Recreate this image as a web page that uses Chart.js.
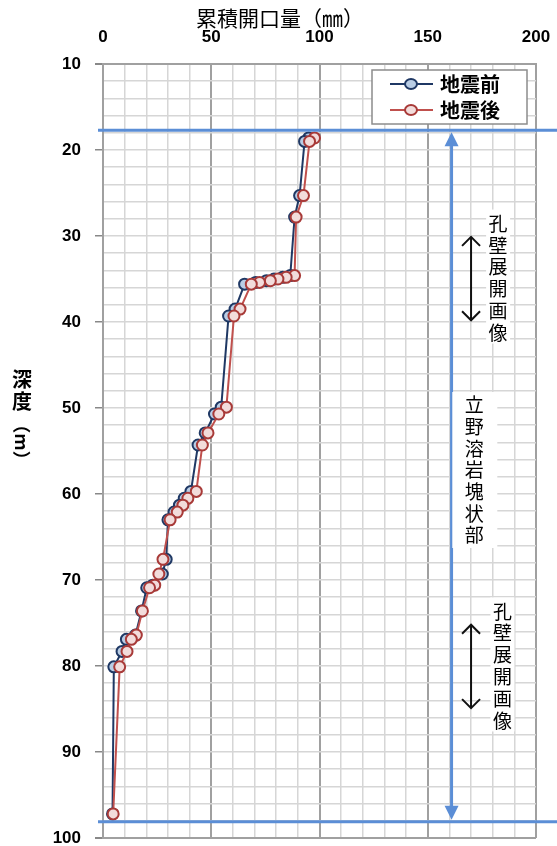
<!DOCTYPE html>
<html>
<head>
<meta charset="utf-8">
<script src="https://cdn.jsdelivr.net/npm/chart.js@4.4.1/dist/chart.umd.min.js"></script>
<style>
  html, body { margin: 0; padding: 0; background: #fff; }
  #wrap { width: 557px; height: 846px; position: relative; }
</style>
</head>
<body>
<div id="wrap"><canvas id="chart"></canvas></div>
<script>
// depth of each reading (m)
var depths = [18.6, 19.0, 25.3, 27.8, 34.6, 34.8, 35.0, 35.2, 35.4, 35.6, 38.5, 39.3,
    49.9, 50.7, 52.9, 54.3, 59.7, 60.5, 61.3, 62.1, 63.0, 67.6, 69.3, 70.6, 70.9,
    73.6, 76.4, 76.9, 78.3, 80.1, 97.2];
// cumulative opening (mm)
var beforeQuake = [95.0, 93.1, 90.8, 88.5, 86.5, 83.0, 79.0, 75.5, 70.5, 65.4, 61.0, 58.0,
    54.6, 51.5, 47.2, 43.9, 40.6, 37.5, 35.3, 32.8, 30.0, 29.2, 27.4, 23.0, 20.2,
    17.8, 15.0, 10.8, 8.8, 5.0, 4.4];
var afterQuake = [97.7, 95.4, 92.6, 89.2, 88.5, 84.6, 80.8, 77.3, 72.3, 68.5, 63.3, 60.5,
    57.0, 53.5, 48.5, 45.9, 43.1, 39.2, 36.9, 34.3, 31.0, 27.7, 25.8, 23.9, 21.5,
    18.2, 15.4, 13.1, 11.1, 7.7, 4.7];
var seriesNames = ["地震前", "地震後"];
var xTickLabels = [0, 50, 100, 150, 200];
var yTickLabels = [10, 20, 30, 40, 50, 60, 70, 80, 90, 100];

// annotation ranges (depth m)
var zoneTop = 17.7, zoneBottom = 98.1;
var imageRanges = [[30.1, 39.8], [75.2, 84.9]];

var jpFont = '"Noto Sans CJK JP", "Noto Sans", sans-serif';
var numFont = '"Liberation Sans", Arial, sans-serif';

function pts(xs) {
    return xs.map(function (v, i) { return { x: v, y: depths[i] }; });
}

function vText(ctx, str, x, y0, step) {
    for (var i = 0; i < str.length; i++) {
        ctx.fillText(str[i], x, y0 + i * step);
    }
}

var annotations = {
    id: "annotations",
    afterDatasetsDraw: function (chart) {
        var ctx = chart.ctx, xs = chart.scales.x, ys = chart.scales.y;
        var area = chart.chartArea;
        ctx.save();

        // zone boundary lines
        ctx.strokeStyle = "#5b8ed6";
        ctx.lineWidth = 3;
        [zoneTop, zoneBottom].forEach(function (d) {
            var py = ys.getPixelForValue(d);
            ctx.beginPath();
            ctx.moveTo(area.left - 5, py);
            ctx.lineTo(chart.width, py);
            ctx.stroke();
        });

        // zone double arrow
        var ax = xs.getPixelForValue(161);
        var yt = ys.getPixelForValue(zoneTop) + 2, yb = ys.getPixelForValue(zoneBottom) - 2;
        ctx.beginPath();
        ctx.moveTo(ax, yt + 12);
        ctx.lineTo(ax, yb - 12);
        ctx.stroke();
        ctx.fillStyle = "#5b8ed6";
        ctx.beginPath();
        ctx.moveTo(ax, yt); ctx.lineTo(ax - 7, yt + 14); ctx.lineTo(ax + 7, yt + 14); ctx.closePath();
        ctx.fill();
        ctx.beginPath();
        ctx.moveTo(ax, yb); ctx.lineTo(ax - 7, yb - 14); ctx.lineTo(ax + 7, yb - 14); ctx.closePath();
        ctx.fill();

        // borehole image ranges
        ctx.strokeStyle = "#111";
        ctx.lineWidth = 2;
        var bx = xs.getPixelForValue(170);
        imageRanges.forEach(function (r, k) {
            var y1 = ys.getPixelForValue(r[0]), y2 = ys.getPixelForValue(r[1]);
            ctx.beginPath();
            ctx.moveTo(bx, y1); ctx.lineTo(bx, y2);
            ctx.moveTo(bx - 9, y1 + 9); ctx.lineTo(bx, y1); ctx.lineTo(bx + 9, y1 + 9);
            ctx.moveTo(bx - 9, y2 - 9); ctx.lineTo(bx, y2); ctx.lineTo(bx + 9, y2 - 9);
            ctx.stroke();

            var tx = xs.getPixelForValue(k === 0 ? 182.5 : 184.5);
            var ty = (y1 + y2) / 2 - 55;
            ctx.fillStyle = "#fff";
            ctx.fillRect(tx - 12, ty - 14, 24, 134);
            ctx.fillStyle = "#000";
            ctx.font = "19px " + jpFont;
            ctx.textAlign = "center";
            ctx.textBaseline = "middle";
            vText(ctx, "孔壁展開画像", tx, ty, 21.8);
        });

        // rock zone label
        var mx = xs.getPixelForValue(171.5);
        ctx.fillStyle = "#fff";
        ctx.fillRect(mx - 22, 392, 45, 156);
        ctx.fillStyle = "#000";
        ctx.font = "19px " + jpFont;
        ctx.textAlign = "center";
        ctx.textBaseline = "middle";
        vText(ctx, "立野溶岩塊状部", mx, 405, 21.7);
        ctx.restore();
    },
    afterDraw: function (chart) {
        var ctx = chart.ctx;
        ctx.save();
        ctx.fillStyle = "#000";
        ctx.textAlign = "center";
        ctx.textBaseline = "middle";
        // x axis title (sits left of centre in the original)
        ctx.font = "21px " + jpFont;
        ctx.fillText("累積開口量（㎜）", 280, 18);
        // y axis title, vertical writing
        ctx.font = "bold 20px " + jpFont;
        vText(ctx, "深度", 22, 379, 22);
        ctx.translate(22, 442);
        ctx.rotate(Math.PI / 2);
        ctx.font = "bold 18px " + jpFont;
        ctx.fillText("（m）", 0, 0);
        ctx.restore();

        // legend
        ctx.save();
        ctx.fillStyle = "#fff";
        ctx.fillRect(372, 70, 155, 54);
        ctx.strokeStyle = "#8c8c8c";
        ctx.lineWidth = 1.5;
        ctx.strokeRect(372, 70, 155, 54);
        chart.data.datasets.forEach(function (ds, i) {
            var ly = 84 + i * 26;
            ctx.strokeStyle = ds.borderColor;
            ctx.lineWidth = 2;
            ctx.beginPath();
            ctx.moveTo(390, ly); ctx.lineTo(433, ly);
            ctx.stroke();
            ctx.fillStyle = ds.pointBackgroundColor;
            ctx.beginPath();
            ctx.ellipse(411, ly, 6, 5, 0, 0, Math.PI * 2);
            ctx.fill();
            ctx.strokeStyle = ds.pointBorderColor;
            ctx.stroke();
            ctx.fillStyle = "#000";
            ctx.font = "bold 20px " + jpFont;
            ctx.textAlign = "left";
            ctx.textBaseline = "middle";
            ctx.fillText(ds.label, 440, ly);
        });
        ctx.restore();
    }
};

var ctx = document.getElementById("chart").getContext("2d");
new Chart(ctx, {
    type: "scatter",
    data: {
        datasets: [{
            label: seriesNames[0],
            data: pts(beforeQuake),
            showLine: true,
            borderColor: "#1f3864",
            borderWidth: 2,
            pointBackgroundColor: "#b9cde5",
            pointBorderColor: "#1f3864",
            pointBorderWidth: 2,
            pointRadius: 5.5,
            order: 2
        }, {
            label: seriesNames[1],
            data: pts(afterQuake),
            showLine: true,
            borderColor: "#c0504d",
            borderWidth: 2,
            pointBackgroundColor: "#f2dcdb",
            pointBorderColor: "#a83a38",
            pointBorderWidth: 2,
            pointRadius: 5.5,
            order: 1
        }]
    },
    options: {
        responsive: true,
        maintainAspectRatio: false,
        animation: false,
        layout: { padding: { left: 0, right: 21, top: 0, bottom: 8 } },
        plugins: {
            legend: { display: false },
            tooltip: { enabled: false }
        },
        scales: {
            x: {
                type: "linear",
                position: "top",
                min: 0,
                max: 200,
                afterFit: function (s) { s.height = 64; s.paddingLeft = 0; s.paddingRight = 0; },
                ticks: {
                    stepSize: 10,
                    autoSkip: false,
                    maxRotation: 0,
                    padding: 16,
                    color: "#000",
                    font: { family: numFont, size: 17, weight: "bold" },
                    callback: function (v) { return xTickLabels.indexOf(v) >= 0 ? String(v) : ""; }
                },
                grid: {
                    color: function (c) { return c.tick && c.tick.value % 50 === 0 ? "#a0a0a0" : "#d6d6d6"; },
                    lineWidth: function (c) { return c.tick && c.tick.value % 50 === 0 ? 2 : 1.5; },
                    tickLength: 0
                },
                border: { color: "#a0a0a0", width: 2 },
                title: { display: false }
            },
            y: {
                type: "linear",
                reverse: true,
                min: 10,
                max: 100,
                afterFit: function (s) { s.width = 103; s.paddingTop = 0; s.paddingBottom = 0; },
                ticks: {
                    stepSize: 2,
                    autoSkip: false,
                    padding: 14,
                    color: "#000",
                    font: { family: numFont, size: 17, weight: "bold", lineHeight: 1 },
                    callback: function (v) { return yTickLabels.indexOf(v) >= 0 ? String(v) : ""; }
                },
                grid: {
                    color: function (c) { return c.tick && (c.tick.value === 10 || c.tick.value === 100) ? "#a0a0a0" : "#d6d6d6"; },
                    lineWidth: function (c) { return c.tick && (c.tick.value === 10 || c.tick.value === 100) ? 2 : 1.5; },
                    tickColor: function (c) { return c.tick && c.tick.value % 10 === 0 ? "#888" : "rgba(0,0,0,0)"; },
                    tickLength: 8
                },
                border: { color: "#a0a0a0", width: 2 }
            }
        }
    },
    plugins: [annotations]
});
</script>
</body>
</html>
